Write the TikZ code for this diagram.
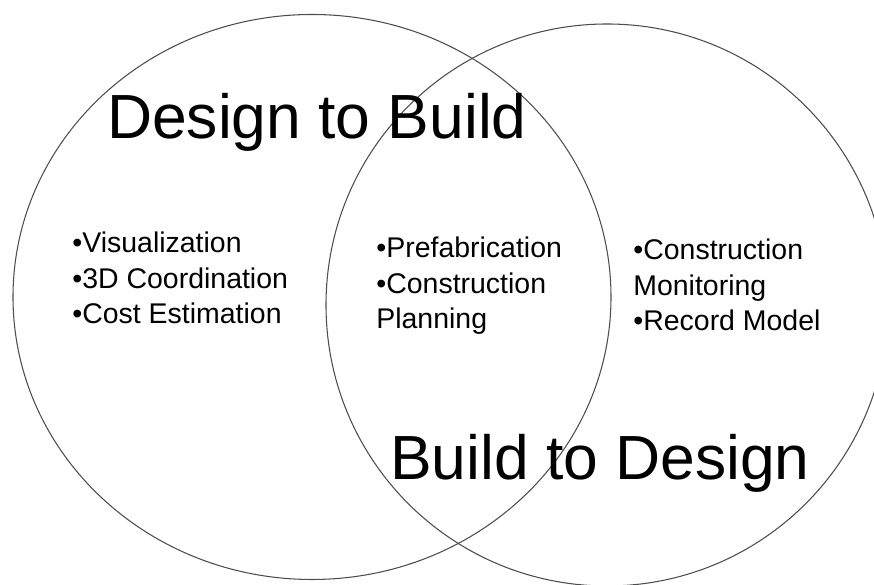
\documentclass[tikz,border=0pt]{standalone}
\usepackage{fontspec}
\setmainfont{Liberation Sans}
\usepackage{xcolor}
\usetikzlibrary{positioning}

\begin{document}
\begin{tikzpicture}[ring/.style={draw=black!70,line width=0.6pt},
	bigtitle/.style={font=\fontsize{35.5}{40}\selectfont,inner sep=0pt},
	itemlist/.style={font=\fontsize{16.2}{20.2}\selectfont,align=left,anchor=west,inner sep=0pt}]
		
		\clip (0,0) rectangle (17.48,11.7);
		
		\draw[ring] (6.24,5.76) ellipse [x radius=5.98,y radius=5.65];
		\draw[ring] (12.14,5.6) circle (5.62);
		
		\node[bigtitle] (dtb) at (6.34,9.26) {Design to Build};
		\node[bigtitle] (btd) at (12.0,2.44) {Build to Design};
		
		\node[itemlist] (left) at (1.44,6.14) {\textbullet Visualization\\\textbullet 3D Coordination\\\textbullet Cost Estimation};
		\node[itemlist] (mid) at (7.52,5.98) {\textbullet Prefabrication\\\textbullet Construction\\Planning};
		\node[itemlist] (right) at (12.66,6.0) {\textbullet Construction\\Monitoring\\\textbullet Record Model};
		
	\end{tikzpicture}
\end{document}
